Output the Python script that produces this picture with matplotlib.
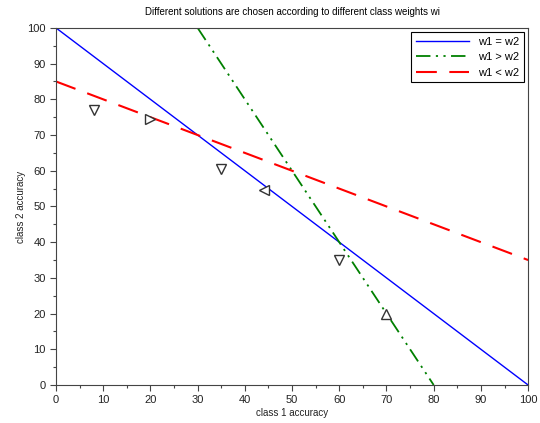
import matplotlib
matplotlib.use("Agg")
import matplotlib.pyplot as plt
import numpy as np
from matplotlib.ticker import MultipleLocator

# Data
line_x = [0, 100]
blue_y = [100, 0]          # w1 = w2
green_x = [30, 80]
green_y = [100, 0]         # w1 > w2
red_y = [85, 35]           # w1 < w2

pts_x = [8, 20, 35, 44, 60, 70]
pts_y = [77, 74.5, 60.5, 54.5, 35, 20]
pts_m = ['v', '>', 'v', '<', 'v', '^']

plt.rcParams['font.family'] = ['Liberation Sans', 'DejaVu Sans']

fig = plt.figure(figsize=(5.4, 4.23), dpi=100)
ax = fig.add_axes([0.1037, 0.0898, 0.8743, 0.8442])

ax.plot(line_x, blue_y, color='#0000ff', lw=1.0, label='w1 = w2')
ax.plot(green_x, green_y, color='#008000', lw=1.3, dashes=[8, 3, 1.2, 3, 1.2, 3], label='w1 > w2')
ax.plot(line_x, red_y, color='#ff0000', lw=1.5, dashes=[10, 6], label='w1 < w2')

for x, y, m in zip(pts_x, pts_y, pts_m):
    ax.plot([x], [y], marker=m, markersize=7, markerfacecolor='white',
            markeredgecolor='#333333', markeredgewidth=1.0, linestyle='none')

ax.set_xlim(0, 100)
ax.set_ylim(0, 100)
ax.xaxis.set_major_locator(MultipleLocator(10))
ax.yaxis.set_major_locator(MultipleLocator(10))
ax.xaxis.set_minor_locator(MultipleLocator(5))
ax.yaxis.set_minor_locator(MultipleLocator(5))
ax.tick_params(which='major', length=4, labelsize=8, width=0.8, color='#444444', labelcolor='#222222')
ax.tick_params(which='minor', length=2, width=0.8, color='#444444')
ax.tick_params(top=False, right=False)
for s in ax.spines.values():
    s.set_color('#444444')
    s.set_linewidth(0.8)

ax.set_xlabel('class 1 accuracy', fontsize=7, labelpad=2, color='#222222')
ax.set_ylabel('class 2 accuracy', fontsize=7, labelpad=1, color='#222222')
ax.set_title('Different solutions are chosen according to different class weights wi', fontsize=7, pad=9)

leg = ax.legend(loc='upper right', fontsize=8, fancybox=False, framealpha=1,
                edgecolor='black', handlelength=4.8, borderaxespad=0.4)
leg.get_frame().set_linewidth(0.8)

fig.savefig('out.png', dpi=100)
